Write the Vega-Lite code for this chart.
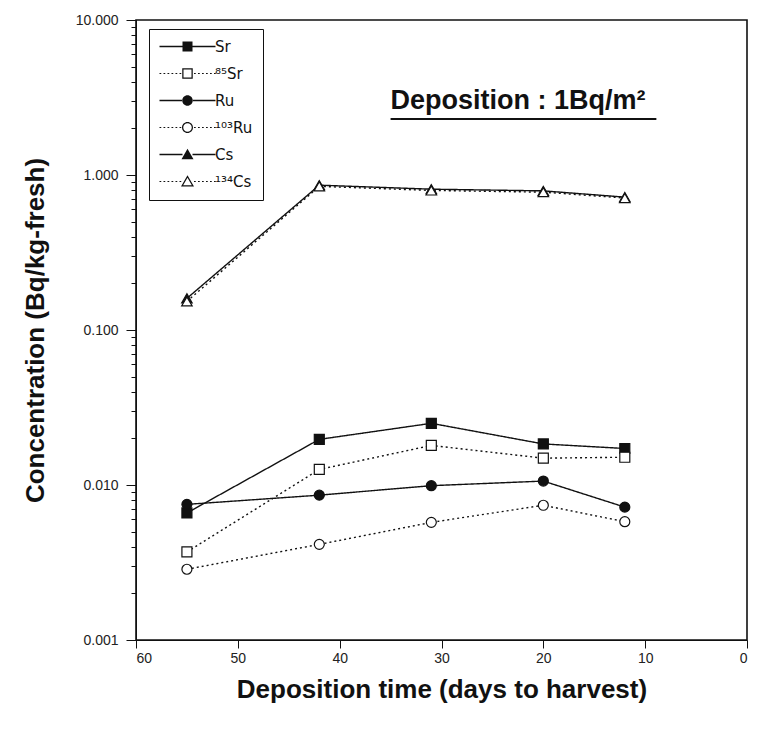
{
  "$schema": "https://vega.github.io/schema/vega-lite/v6.json",
  "width": 611,
  "height": 620,
  "autosize": {"type": "none"},
  "padding": {"left": 136, "top": 20, "right": 12, "bottom": 100},
  "background": "white",
  "config": {
    "view": {"stroke": "#111", "strokeWidth": 1.6},
    "font": "Liberation Sans",
    "axis": {"domainColor": "#111", "tickColor": "#111", "labelColor": "#222", "titleColor": "#111", "labelFont": "Liberation Sans", "titleFont": "Liberation Sans", "grid": false}
  },
  "data": {
    "values": [
      {"series": "Sr", "days": 55, "conc": 0.0066},
      {"series": "Sr", "days": 42, "conc": 0.0197},
      {"series": "Sr", "days": 31, "conc": 0.025},
      {"series": "Sr", "days": 20, "conc": 0.0184},
      {"series": "Sr", "days": 12, "conc": 0.0172},
      {"series": "⁸⁵Sr", "days": 55, "conc": 0.0037},
      {"series": "⁸⁵Sr", "days": 42, "conc": 0.0126},
      {"series": "⁸⁵Sr", "days": 31, "conc": 0.018},
      {"series": "⁸⁵Sr", "days": 20, "conc": 0.0149},
      {"series": "⁸⁵Sr", "days": 12, "conc": 0.0151},
      {"series": "Ru", "days": 55, "conc": 0.0075},
      {"series": "Ru", "days": 42, "conc": 0.0086},
      {"series": "Ru", "days": 31, "conc": 0.0099},
      {"series": "Ru", "days": 20, "conc": 0.0106},
      {"series": "Ru", "days": 12, "conc": 0.0072},
      {"series": "¹⁰³Ru", "days": 55, "conc": 0.00286},
      {"series": "¹⁰³Ru", "days": 42, "conc": 0.00414},
      {"series": "¹⁰³Ru", "days": 31, "conc": 0.00574},
      {"series": "¹⁰³Ru", "days": 20, "conc": 0.0074},
      {"series": "¹⁰³Ru", "days": 12, "conc": 0.0058},
      {"series": "Cs", "days": 55, "conc": 0.16},
      {"series": "Cs", "days": 42, "conc": 0.86},
      {"series": "Cs", "days": 31, "conc": 0.81},
      {"series": "Cs", "days": 20, "conc": 0.79},
      {"series": "Cs", "days": 12, "conc": 0.72},
      {"series": "¹³⁴Cs", "days": 55, "conc": 0.153},
      {"series": "¹³⁴Cs", "days": 42, "conc": 0.845},
      {"series": "¹³⁴Cs", "days": 31, "conc": 0.795},
      {"series": "¹³⁴Cs", "days": 20, "conc": 0.775},
      {"series": "¹³⁴Cs", "days": 12, "conc": 0.71}
    ]
  },
  "layer": [
    {
      "mark": {"type": "line", "color": "#111", "strokeWidth": 1.4},
      "encoding": {
        "x": {"field": "days", "type": "quantitative", "scale": {"domain": [0, 60], "reverse": true, "nice": false, "zero": false},
          "axis": {"values": [0, 10, 20, 30, 40, 50, 60], "format": "d", "labelFontSize": 14, "tickSize": 8, "labelPadding": 3, "title": "Deposition time (days to harvest)", "titleFontSize": 26, "titleFontWeight": "bold", "titlePadding": 11}},
        "y": {"field": "conc", "type": "quantitative", "scale": {"type": "log", "domain": [0.001, 10], "nice": false},
          "axis": {"values": [0.001, 0.002, 0.003, 0.004, 0.005, 0.006, 0.007, 0.008, 0.009, 0.01, 0.02, 0.03, 0.04, 0.05, 0.06, 0.07, 0.08, 0.09, 0.1, 0.2, 0.3, 0.4, 0.5, 0.6, 0.7, 0.8, 0.9, 1, 2, 3, 4, 5, 6, 7, 8, 9, 10],
            "labelExpr": "abs(log(datum.value)/LN10 - round(log(datum.value)/LN10)) < 0.01 ? format(datum.value, '.3f') : ''",
            "labelOverlap": false, "labelFontSize": 14,
            "tickSize": {"condition": {"test": "abs(log(datum.value)/LN10 - round(log(datum.value)/LN10)) < 0.01", "value": 10}, "value": 5},
            "labelPadding": 8,
            "title": "Concentration (Bq/kg-fresh)", "titleFontSize": 26, "titleFontWeight": "bold", "titlePadding": 27}},
        "detail": {"field": "series"},
        "strokeDash": {"condition": {"test": "indexof(['Sr','Ru','Cs'], datum.series) >= 0", "value": [1, 0]}, "value": [2, 3]}
      }
    },
    {
      "transform": [{"filter": "datum.series === 'Sr' || datum.series === '⁸⁵Sr'"}],
      "mark": {"type": "point", "shape": "square", "filled": true, "stroke": "#111", "strokeWidth": 1.2, "size": 100, "opacity": 1},
      "encoding": {
        "x": {"field": "days", "type": "quantitative"},
        "y": {"field": "conc", "type": "quantitative"},
        "fill": {"condition": {"test": "indexof(['Sr','Ru','Cs'], datum.series) >= 0", "value": "#111"}, "value": "white"}
      }
    },
    {
      "transform": [{"filter": "datum.series === 'Ru' || datum.series === '¹⁰³Ru'"}],
      "mark": {"type": "point", "shape": "circle", "filled": true, "stroke": "#111", "strokeWidth": 1.2, "size": 100, "opacity": 1},
      "encoding": {
        "x": {"field": "days", "type": "quantitative"},
        "y": {"field": "conc", "type": "quantitative"},
        "fill": {"condition": {"test": "indexof(['Sr','Ru','Cs'], datum.series) >= 0", "value": "#111"}, "value": "white"}
      }
    },
    {
      "transform": [{"filter": "datum.series === 'Cs' || datum.series === '¹³⁴Cs'"}],
      "mark": {"type": "point", "shape": "triangle-up", "filled": true, "stroke": "#111", "strokeWidth": 1.2, "size": 110, "opacity": 1},
      "encoding": {
        "x": {"field": "days", "type": "quantitative"},
        "y": {"field": "conc", "type": "quantitative"},
        "fill": {"condition": {"test": "indexof(['Sr','Ru','Cs'], datum.series) >= 0", "value": "#111"}, "value": "white"}
      }
    },
    {
      "transform": [{"filter": "false"}],
      "mark": {"type": "point", "filled": true, "size": 100, "opacity": 1},
      "encoding": {
        "x": {"field": "days", "type": "quantitative"},
        "y": {"field": "conc", "type": "quantitative"},
        "fill": {"field": "series", "type": "nominal", "scale": {"domain": ["Sr", "⁸⁵Sr", "Ru", "¹⁰³Ru", "Cs", "¹³⁴Cs"], "range": ["#111", "#111", "#111", "#111", "#111", "#111"]},
          "legend": {"orient": "none", "legendX": 13, "legendY": 9, "title": null, "direction": "vertical", "labelFont": "DejaVu Sans", "labelFontSize": 15, "labelColor": "#111", "symbolSize": 100, "symbolStrokeWidth": 0, "symbolOpacity": 1, "symbolOffset": 21, "labelOffset": 20, "rowPadding": 11, "padding": 10, "strokeColor": "#111", "fillColor": "white"}},
        "shape": {"field": "series", "type": "nominal", "scale": {"domain": ["Sr", "⁸⁵Sr", "Ru", "¹⁰³Ru", "Cs", "¹³⁴Cs"], "range": [
            "M-5.6,-0.13H-1V0.13H-5.6ZM1,-0.13H5.6V0.13H1ZM-1,-1H1V1H-1Z",
            "M-5.6,-0.12h0.35v0.24h-0.35ZM-4.8,-0.12h0.35v0.24h-0.35ZM-4,-0.12h0.35v0.24h-0.35ZM-3.2,-0.12h0.35v0.24h-0.35ZM-2.4,-0.12h0.35v0.24h-0.35ZM-1.6,-0.12h0.35v0.24h-0.35ZM1.3,-0.12h0.35v0.24h-0.35ZM2.1,-0.12h0.35v0.24h-0.35ZM2.9,-0.12h0.35v0.24h-0.35ZM3.7,-0.12h0.35v0.24h-0.35ZM4.5,-0.12h0.35v0.24h-0.35ZM5.3,-0.12h0.35v0.24h-0.35ZM-1.05,-1.05H1.05V1.05H-1.05ZM-0.8,-0.8V0.8H0.8V-0.8Z",
            "M-5.6,-0.13H-1V0.13H-5.6ZM1,-0.13H5.6V0.13H1ZM-1.05,0A1.05,1.05 0 1,0 1.05,0A1.05,1.05 0 1,0 -1.05,0Z",
            "M-5.6,-0.12h0.35v0.24h-0.35ZM-4.8,-0.12h0.35v0.24h-0.35ZM-4,-0.12h0.35v0.24h-0.35ZM-3.2,-0.12h0.35v0.24h-0.35ZM-2.4,-0.12h0.35v0.24h-0.35ZM-1.6,-0.12h0.35v0.24h-0.35ZM1.3,-0.12h0.35v0.24h-0.35ZM2.1,-0.12h0.35v0.24h-0.35ZM2.9,-0.12h0.35v0.24h-0.35ZM3.7,-0.12h0.35v0.24h-0.35ZM4.5,-0.12h0.35v0.24h-0.35ZM5.3,-0.12h0.35v0.24h-0.35ZM-1.1,0A1.1,1.1 0 1,1 1.1,0A1.1,1.1 0 1,1 -1.1,0ZM-0.85,0A0.85,0.85 0 1,0 0.85,0A0.85,0.85 0 1,0 -0.85,0Z",
            "M-5.6,-0.13H-1V0.13H-5.6ZM1,-0.13H5.6V0.13H1ZM0,-1.15L1.2,0.95H-1.2Z",
            "M-5.6,-0.12h0.35v0.24h-0.35ZM-4.8,-0.12h0.35v0.24h-0.35ZM-4,-0.12h0.35v0.24h-0.35ZM-3.2,-0.12h0.35v0.24h-0.35ZM-2.4,-0.12h0.35v0.24h-0.35ZM-1.6,-0.12h0.35v0.24h-0.35ZM1.3,-0.12h0.35v0.24h-0.35ZM2.1,-0.12h0.35v0.24h-0.35ZM2.9,-0.12h0.35v0.24h-0.35ZM3.7,-0.12h0.35v0.24h-0.35ZM4.5,-0.12h0.35v0.24h-0.35ZM5.3,-0.12h0.35v0.24h-0.35ZM0,-1.25L1.3,1H-1.3ZM0,-0.75L-0.87,0.75H0.87Z"]},
          "legend": {"orient": "none", "legendX": 13, "legendY": 9, "title": null, "direction": "vertical", "labelFont": "DejaVu Sans", "labelFontSize": 15, "labelColor": "#111", "symbolSize": 100, "symbolStrokeWidth": 0, "symbolOpacity": 1, "symbolOffset": 21, "labelOffset": 20, "rowPadding": 11, "padding": 10, "strokeColor": "#111", "fillColor": "white"}}
      }
    },
    {
      "data": {"values": [{}]},
      "mark": {"type": "text", "text": "Deposition : 1Bq/m²", "align": "left", "baseline": "middle", "font": "Liberation Sans", "fontSize": 27, "fontWeight": "bold", "color": "#111"},
      "encoding": {"x": {"datum": 35}, "y": {"datum": 3.0}}
    },
    {
      "data": {"values": [{}]},
      "mark": {"type": "rule", "color": "#111", "strokeWidth": 2},
      "encoding": {"x": {"datum": 35}, "x2": {"datum": 8.9}, "y": {"datum": 2.3}}
    }
  ]
}
